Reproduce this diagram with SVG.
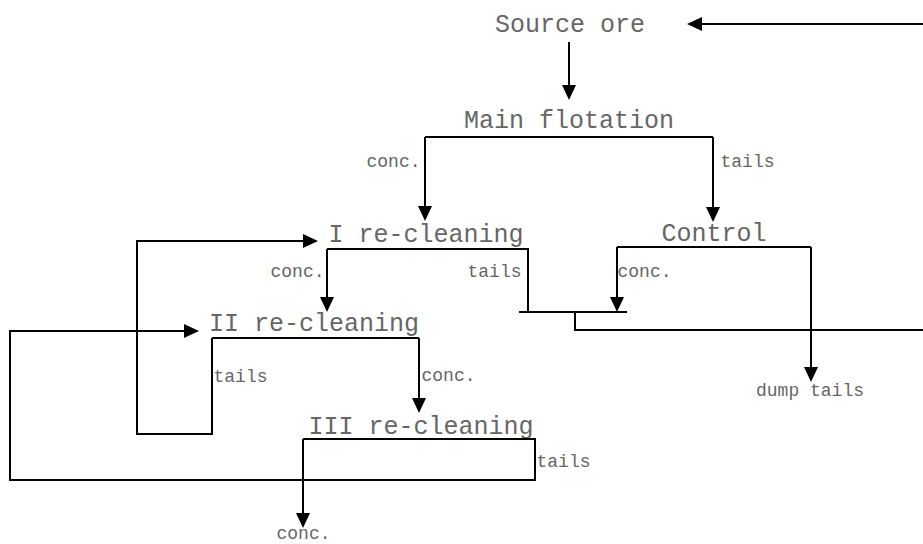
<svg xmlns="http://www.w3.org/2000/svg" width="923" height="544" viewBox="0 0 923 544">
<style>
.title{font-family:"Liberation Mono","Courier New",monospace;font-size:25px;fill:#666;text-anchor:middle}
.lbl{font-family:"Liberation Mono","Courier New",monospace;font-size:18px;fill:#666}
.ln{fill:none;stroke:#000;stroke-width:2}
.ar{fill:none;stroke:#000;stroke-width:2;marker-end:url(#ah)}
</style>
<defs>
<marker id="ah" viewBox="0 0 15 14" refX="11" refY="7" markerWidth="15" markerHeight="14" markerUnits="userSpaceOnUse" orient="auto">
<path d="M0,0 L15,7 L0,14 z" fill="#000"/>
</marker>
</defs>
<rect width="923" height="544" fill="#fff"/>
<g id="source"><text class="title" x="570" y="32">Source ore</text></g>
<g id="main"><text class="title" x="569" y="128">Main flotation</text></g>
<g id="clean1"><text class="title" x="426" y="242">I re-cleaning</text></g>
<g id="control"><text class="title" x="714" y="241">Control</text></g>
<g id="clean2"><text class="title" x="314" y="331">II re-cleaning</text></g>
<g id="clean3"><text class="title" x="421" y="434">III re-cleaning</text></g>
<g id="dump"><text class="lbl" x="756" y="396">dump tails</text></g>
<g id="product"><text class="lbl" x="276.5" y="539">conc.</text></g>
<g id="connectors">
<path class="ar" d="M923,24 H691"/>
<path class="ar" d="M569,42 V96"/>
<path class="ln" d="M425,137 H713"/>
<path class="ar" d="M425,137 V217"/>
<path class="ar" d="M713,137 V218"/>
<path class="ln" d="M327,249 H528 V312"/>
<path class="ar" d="M327,249 V308"/>
<path class="ln" d="M519,312 H627"/>
<path class="ln" d="M575,312 V330 H923"/>
<path class="ln" d="M617,247 H811"/>
<path class="ar" d="M617,247 V308"/>
<path class="ar" d="M811,247 V378"/>
<path class="ln" d="M212,338 H419"/>
<path class="ar" d="M419,338 V409"/>
<path class="ar" d="M212,338 V434 H137 V241 H314"/>
<path class="ar" d="M303,439 H535 V480 H10 V331 H195"/>
<path class="ar" d="M303,439 V524"/>
</g>
<g id="labels">
<text class="lbl" x="366.5" y="167">conc.</text>
<text class="lbl" x="720.5" y="167">tails</text>
<text class="lbl" x="270.5" y="277">conc.</text>
<text class="lbl" x="467.5" y="277">tails</text>
<text class="lbl" x="617.5" y="277">conc.</text>
<text class="lbl" x="213.5" y="382">tails</text>
<text class="lbl" x="421.5" y="381">conc.</text>
<text class="lbl" x="536.5" y="467">tails</text>
</g>
</svg>
